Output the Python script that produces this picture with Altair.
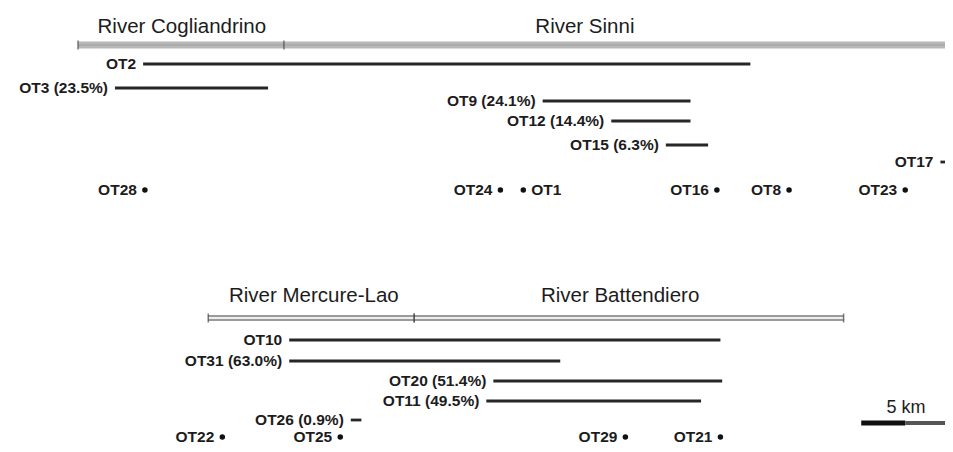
import altair as alt
import pandas as pd

# ---- data (positions along the river course, km) ----
river_names = ["River Cogliandrino", "River Sinni", "River Mercure-Lao", "River Battendiero"]
river_start = [0.0, 11.7, 7.4, 19.1]
river_end = [11.7, 50.5, 19.1, 43.5]
river_row = [45, 45, 318, 318]
river_label_x = [5.9, 28.8, 13.4, 30.8]
river_label_row = [27, 27, 296, 296]
river_style = ["solid", "solid", "outline", "outline"]

track_names = ["OT2", "OT3 (23.5%)", "OT9 (24.1%)", "OT12 (14.4%)", "OT15 (6.3%)", "OT17",
               "OT10", "OT31 (63.0%)", "OT20 (51.4%)", "OT11 (49.5%)", "OT26 (0.9%)"]
track_start = [3.7, 2.1, 26.4, 30.3, 33.4, 49.0, 12.0, 12.0, 23.6, 23.2, 15.5]
track_end = [38.2, 10.8, 34.8, 34.8, 35.8, 49.5, 36.5, 27.4, 36.6, 35.4, 16.1]
track_row = [64, 88, 101, 121, 145, 162, 340, 361, 381, 401, 420]

point_names = ["OT28", "OT24", "OT1", "OT16", "OT8", "OT23", "OT22", "OT25", "OT29", "OT21"]
point_x = [3.8, 24.0, 25.3, 36.3, 40.4, 47.0, 8.2, 14.9, 31.1, 36.5]
point_row = [190, 190, 190, 190, 190, 190, 437, 437, 437, 437]
point_side = ["left", "left", "right", "left", "left", "left", "left", "left", "left", "left"]

scale_start = [44.5, 47.0]
scale_end = [47.0, 49.6]
scale_row = [423, 423]
scale_label = "5 km"

# ---- tables ----
rivers = pd.DataFrame({"name": river_names, "start": river_start, "end": river_end,
                       "row": river_row, "lx": river_label_x, "lrow": river_label_row,
                       "style": river_style})
tracks = pd.DataFrame({"name": track_names, "start": track_start, "end": track_end, "row": track_row})
points = pd.DataFrame({"name": point_names, "x": point_x, "row": point_row, "side": point_side})
scalebar = pd.DataFrame({"start": scale_start, "end": scale_end, "row": scale_row,
                         "part": ["a", "b"]})
scaletext = pd.DataFrame({"x": [(scale_start[0] + scale_end[1]) / 2], "row": [408], "t": [scale_label]})

xs = alt.Scale(domain=[-3.977, 49.26])
ys = alt.Scale(domain=[8, 444], reverse=True)
FONT = "Liberation Sans"
TXT = "#1c1c1c"

def X(f="start"):
    return alt.X(f + ":Q", scale=xs, axis=None)

def Y(f="row"):
    return alt.Y(f + ":Q", scale=ys, axis=None)

solid = rivers[rivers["style"] == "solid"]
outline = rivers[rivers["style"] == "outline"]

river_solid = alt.Chart(solid).mark_rule(strokeWidth=7, color="#b8b8b8").encode(
    x=X("start"), x2="end", y=Y())
river_solid_line = alt.Chart(solid).mark_rule(strokeWidth=1, color="#a0a0a0").encode(
    x=X("start"), x2="end", y=Y())
river_outline_outer = alt.Chart(outline).mark_rule(strokeWidth=6, color="#9a9a9a").encode(
    x=X("start"), x2="end", y=Y())
river_outline_inner = alt.Chart(outline).mark_rule(strokeWidth=2, color="#eeeeee").encode(
    x=X("start"), x2="end", y=Y())
river_ticks_a = alt.Chart(rivers).mark_tick(orient="vertical", size=9, thickness=1.5, color="#444").encode(
    x=X("start"), y=Y())
river_ticks_b = alt.Chart(outline).mark_tick(orient="vertical", size=9, thickness=1.5, color="#444").encode(
    x=X("end"), y=Y())
river_text = alt.Chart(rivers).mark_text(font=FONT, fontSize=20.5, color=TXT, align="center",
                                         baseline="middle").encode(
    x=X("lx"), y=Y("lrow"), text="name:N")

track_lines = alt.Chart(tracks).mark_rule(strokeWidth=2.8, color="#262626").encode(
    x=X("start"), x2="end", y=Y())
track_text = alt.Chart(tracks).mark_text(font=FONT, fontSize=15.5, fontWeight="bold", color=TXT,
                                         align="right", baseline="middle", dx=-7).encode(
    x=X("start"), y=Y(), text="name:N")

pt = alt.Chart(points).mark_circle(size=30, color="#111", opacity=1).encode(x=X("x"), y=Y())
pt_left = alt.Chart(points[points["side"] == "left"]).mark_text(
    font=FONT, fontSize=15.5, fontWeight="bold", color=TXT, align="right", baseline="middle", dx=-8).encode(
    x=X("x"), y=Y(), text="name:N")
pt_right = alt.Chart(points[points["side"] == "right"]).mark_text(
    font=FONT, fontSize=15.5, fontWeight="bold", color=TXT, align="left", baseline="middle", dx=8).encode(
    x=X("x"), y=Y(), text="name:N")

sb = alt.Chart(scalebar).mark_rule().encode(
    x=X("start"), x2="end", y=Y(),
    color=alt.Color("part:N", scale=alt.Scale(domain=["a", "b"], range=["#111", "#555"]), legend=None),
    strokeWidth=alt.StrokeWidth("part:N", scale=alt.Scale(domain=["a", "b"], range=[5, 4]), legend=None))
sbt = alt.Chart(scaletext).mark_text(font=FONT, fontSize=18, color=TXT, align="center",
                                     baseline="middle").encode(x=X("x"), y=Y(), text="t:N")

chart = alt.layer(
    river_solid, river_solid_line, river_outline_outer, river_outline_inner, river_ticks_a, river_ticks_b,
    river_text, track_lines, track_text, pt, pt_left, pt_right, sb, sbt
).properties(width=937, height=436, padding=0, autosize=alt.AutoSizeParams(type="none"),
             background="white"
).configure_view(stroke=None)

chart.save("out.html", embed_options={"renderer": "svg", "actions": False})
